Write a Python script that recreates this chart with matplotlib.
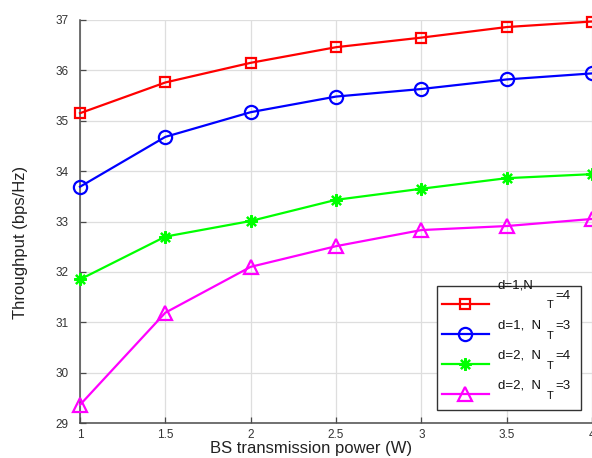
import matplotlib
matplotlib.use("Agg")
import matplotlib.pyplot as plt
from matplotlib.lines import Line2D
from matplotlib.patches import Rectangle

plt.rcParams['font.family'] = ['Liberation Sans', 'DejaVu Sans']

# BS transmit power (W) and throughput (bps/Hz) per configuration
power = [1, 1.5, 2, 2.5, 3, 3.5, 4]
d1_nt4 = [35.15, 35.76, 36.15, 36.46, 36.65, 36.86, 36.97]
d1_nt3 = [33.69, 34.68, 35.17, 35.48, 35.63, 35.82, 35.94]
d2_nt4 = [31.85, 32.70, 33.01, 33.43, 33.65, 33.86, 33.94]
d2_nt3 = [29.36, 31.19, 32.10, 32.51, 32.83, 32.91, 33.05]

series = [
    (d1_nt4, (1, 0, 0), 's', 7.5, 'd=1,N', '=4'),
    (d1_nt3, (0, 0, 1), 'o', 9.5, 'd=1,  N', '=3'),
    (d2_nt4, (0, 1, 0), (8, 2, 0), 9.0, 'd=2,  N', '=4'),
    (d2_nt3, (1, 0, 1), '^', 10.5, 'd=2,  N', '=3'),
]

W, H = 592, 458
fig = plt.figure(figsize=(W / 100, H / 100), dpi=100)


def fx(x):
    return x / W


def fy(y):
    return 1 - y / H


ax = fig.add_axes([80 / W, 35 / H, 512 / W, 403 / H])

for vals, col, mk, ms, _, _ in series:
    ax.plot(power, vals, color=col, lw=1.6, marker=mk, ms=ms,
            mfc='none', mec=col, mew=1.6, clip_on=False, zorder=3)

ax.set_xlim(1, 4)
ax.set_ylim(29, 37)
ax.set_xticks([1, 1.5, 2, 2.5, 3, 3.5, 4])
ax.set_xticklabels(['1', '1.5', '2', '2.5', '3', '3.5', '4'])
ax.set_yticks(range(29, 38))
ax.grid(True, color='#dedede', lw=0.9)
ax.set_axisbelow(True)
for s in ['top', 'right']:
    ax.spines[s].set_visible(False)
for s in ['left', 'bottom']:
    ax.spines[s].set_color('#4a4a4a')
    ax.spines[s].set_linewidth(1.1)
ax.tick_params(direction='in', length=4, width=0.9, colors='#4a4a4a',
               labelcolor='#333333', labelsize=8.5)
ax.tick_params(axis='y', pad=8)
ax.tick_params(axis='x', pad=4.5)

fig.text(fx(311), fy(448), 'BS transmission power (W)', fontsize=12,
         ha='center', va='center', color='#222222')
fig.text(fx(21), fy(242), 'Throughput (bps/Hz)', fontsize=12, rotation=90,
         ha='center', va='center', color='#222222')

# legend drawn by hand
fig.patches.append(Rectangle((fx(437), fy(410)), (581 - 437) / W, (410 - 286) / H,
                             transform=fig.transFigure, facecolor='white',
                             edgecolor='#333333', lw=1.0, zorder=5))
rows = [303.5, 333.5, 363.5, 394]
text_y = [286, 326, 356, 386]
for (vals, col, mk, ms, lab, tail), ly, ty in zip(series, rows, text_y):
    fig.lines.append(Line2D([fx(442), fx(489)], [fy(ly), fy(ly)], color=col, lw=1.6,
                            transform=fig.transFigure, zorder=6))
    fig.lines.append(Line2D([fx(465)], [fy(ly)], color=col, marker=mk, ms=ms,
                            mfc='none', mec=col, mew=1.6,
                            transform=fig.transFigure, zorder=6))
    fig.text(fx(498), fy(ty), lab, fontsize=9.5, ha='left', va='center',
             color='#111111', zorder=7)
    sub_y = 305 if ty == 286 else ty + 10
    tail_y = 296 if ty == 286 else ty
    fig.text(fx(546.5), fy(sub_y), 'T', fontsize=8, ha='left', va='center',
             color='#111111', zorder=7)
    fig.text(fx(555), fy(tail_y), tail, fontsize=9.5, ha='left', va='center',
             color='#111111', zorder=7)

fig.savefig('out.png', dpi=100)
